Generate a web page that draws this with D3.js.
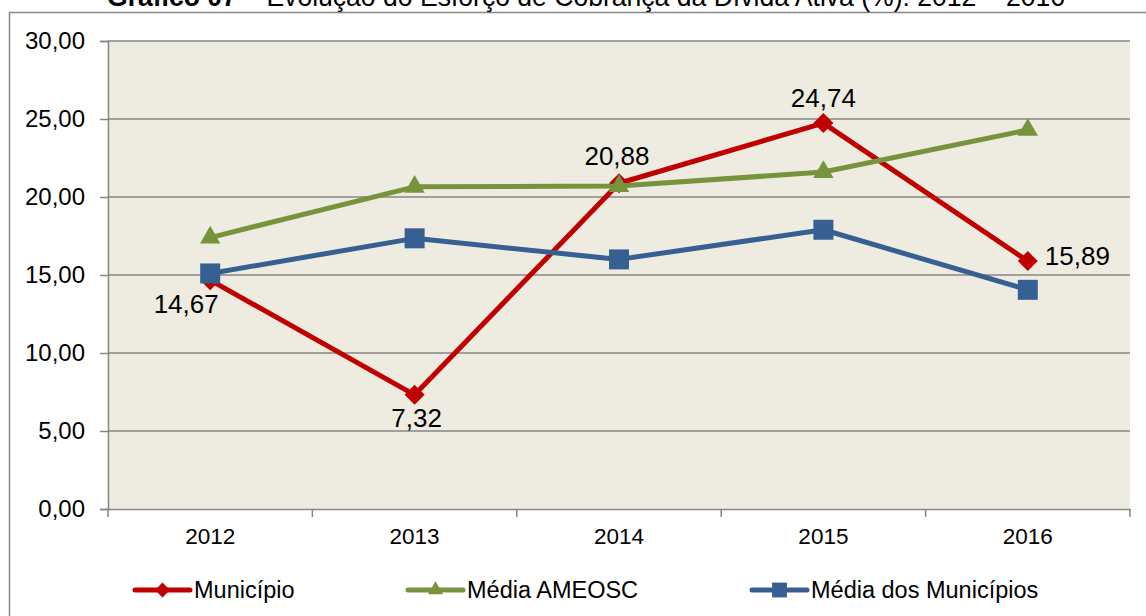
<!DOCTYPE html>
<html>
<head>
<meta charset="utf-8">
<script src="https://cdn.jsdelivr.net/npm/d3@7"></script>
<style>
  body { margin: 0; background: #fff; }
</style>
</head>
<body>
<svg id="chart"></svg>
<script>
// data
const years = ["2012", "2013", "2014", "2015", "2016"]
const municipio = [14.67, 7.32, 20.88, 24.74, 15.89]
const mediaAmeosc = [17.4, 20.65, 20.7, 21.6, 24.3]
const mediaMunicipios = [15.1, 17.35, 16.0, 17.9, 14.05]
const yTicks = [0, 5, 10, 15, 20, 25, 30]
const seriesNames = ["Município", "Média AMEOSC", "Média dos Municípios"]

const width = 1146, height = 616
const margin = {left: 108, right: 16, top: 41, bottom: 107}
const font = "Arial, 'Liberation Sans', sans-serif"
const fmt = d => d3.format(".2f")(d).replace(".", ",")

const svg = d3.select("#chart").attr("width", width).attr("height", height)

// outer frame
svg.append("rect").attr("x", 9.5).attr("y", 12.5).attr("width", 1150).attr("height", 620)
  .attr("fill", "#fff").attr("stroke", "#868686").attr("stroke-width", 1.5)

// title (cut at the top like the original)
const title = svg.append("text").attr("x", 107).attr("y", 6)
  .attr("textLength", 958).attr("lengthAdjust", "spacingAndGlyphs")
  .style("font-family", font).style("font-size", "28px")
title.append("tspan").attr("font-weight", "bold").text("Gráfico 07")
title.append("tspan").text(" – Evolução do Esforço de Cobrança da Dívida Ativa (%): 2012 – 2016")

const x = d3.scaleBand().domain(years).range([margin.left, width - margin.right])
const y = d3.scaleLinear().domain([0, 30]).range([height - margin.bottom, margin.top])
const cx = i => x(years[i]) + x.bandwidth() / 2

// plot background
svg.append("rect").attr("x", margin.left).attr("y", margin.top)
  .attr("width", x.range()[1] - margin.left).attr("height", y(0) - margin.top)
  .attr("fill", "#EEECE1")

// gridlines
svg.append("g").selectAll("line").data(yTicks.filter(d => d > 0)).join("line")
  .attr("x1", margin.left).attr("x2", x.range()[1])
  .attr("y1", d => y(d)).attr("y2", d => y(d))
  .attr("stroke", "#868686").attr("stroke-width", 1.5)

// y axis
const yAxis = svg.append("g").attr("transform", `translate(${margin.left},0)`)
  .call(d3.axisLeft(y).tickValues(yTicks).tickSize(8).tickPadding(15).tickFormat(fmt))
yAxis.select(".domain").attr("stroke", "#868686").attr("stroke-width", 1.5)
yAxis.selectAll(".tick line").attr("stroke", "#868686").attr("stroke-width", 1.5)
yAxis.selectAll("text").style("font-family", font).style("font-size", "24px").attr("fill", "#000")

// x axis
const xAxis = svg.append("g").attr("transform", `translate(0,${y(0)})`)
  .call(d3.axisBottom(x).tickSize(0).tickPadding(19))
xAxis.select(".domain").attr("stroke", "#868686").attr("stroke-width", 1.5)
xAxis.selectAll("text").style("font-family", font).style("font-size", "22.5px").attr("fill", "#000")
// tick marks between categories
xAxis.selectAll(".sep").data(years.concat(["end"])).join("line")
  .attr("x1", (d, i) => margin.left + i * x.step()).attr("x2", (d, i) => margin.left + i * x.step())
  .attr("y1", 0).attr("y2", 8)
  .attr("stroke", "#868686").attr("stroke-width", 1.5)

const series = [
  {name: seriesNames[0], values: municipio, color: "#C00000", symbol: d3.symbolSquare, size: 200, rotate: 45},
  {name: seriesNames[1], values: mediaAmeosc, color: "#77933C", symbol: d3.symbolTriangle, size: 180, rotate: 0},
  {name: seriesNames[2], values: mediaMunicipios, color: "#376092", symbol: d3.symbolSquare, size: 400, rotate: 0}
]

const line = d3.line().x((d, i) => cx(i)).y(d => y(d))

// series drawn in order, like the spreadsheet does
series.forEach(s => {
  svg.append("path").datum(s.values).attr("d", line)
    .attr("fill", "none").attr("stroke", s.color).attr("stroke-width", 5)
    .attr("stroke-linejoin", "round")
  svg.append("g").selectAll("path").data(s.values).join("path")
    .attr("d", d3.symbol().type(s.symbol).size(s.size))
    .attr("transform", (d, i) => `translate(${cx(i)},${y(d)}) rotate(${s.rotate})`)
    .attr("fill", s.color)
})

// data labels for Município
const labelPos = [
  {dx: -24, dy: 33, anchor: "middle"},
  {dx: 2, dy: 32, anchor: "middle"},
  {dx: -2, dy: -18, anchor: "middle"},
  {dx: 0, dy: -16, anchor: "middle"},
  {dx: 17, dy: 4, anchor: "start"}
]
svg.append("g").selectAll("text").data(municipio).join("text")
  .attr("x", (d, i) => cx(i) + labelPos[i].dx)
  .attr("y", (d, i) => y(d) + labelPos[i].dy)
  .attr("text-anchor", (d, i) => labelPos[i].anchor)
  .text(fmt)
  .style("font-family", font).style("font-size", "26px").attr("fill", "#000")

// legend
const legendX = [135, 408, 752]
series.forEach((s, i) => {
  const g = svg.append("g").attr("transform", `translate(${legendX[i]},590)`)
  g.append("line").attr("x1", 0).attr("x2", 55).attr("y1", 0).attr("y2", 0)
    .attr("stroke", s.color).attr("stroke-width", 5).attr("stroke-linecap", "round")
  g.append("path").attr("d", d3.symbol().type(s.symbol).size(s.size * 0.55))
    .attr("transform", `translate(27.5,0) rotate(${s.rotate})`).attr("fill", s.color)
  g.append("text").attr("x", 59).attr("y", 8).text(s.name)
    .style("font-family", font).style("font-size", "23.5px").attr("fill", "#000")
})
</script>
</body>
</html>
